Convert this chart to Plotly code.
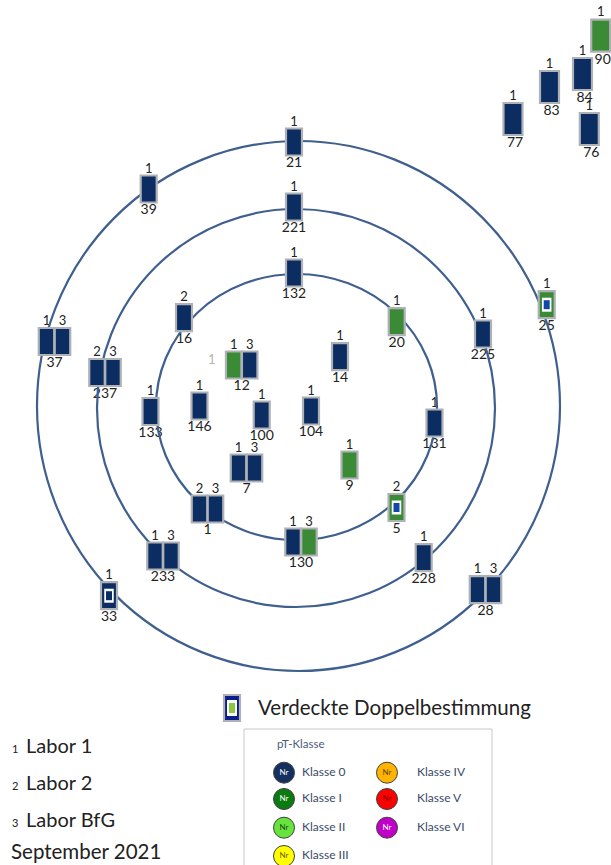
import plotly.graph_objects as go

# Probenahmestellen auf den Kreisen (Pixel-Schema, y nach unten)
sample_ids = ["21", "39", "221", "132", "16", "37", "237", "12", "14", "20", "225",
              "146", "133", "100", "104", "131", "9", "7", "1", "130", "233", "228", "28"]
sample_x = [294, 148.7, 294, 294, 184, 54.5, 105, 241.7, 340, 396.7, 483,
            199.5, 150.5, 261.7, 311, 434.5, 349.5, 246.5, 207.5, 301, 163, 423.7, 485.5]
sample_y = [142, 189, 207, 273, 317.7, 341.5, 372.5, 365, 356.7, 321.7, 334,
            406, 411.5, 415, 411, 423, 465, 468, 509, 542, 556, 557.7, 589.7]
sample_labs = [[1], [1], [1], [1], [2], [1, 3], [2, 3], [1, 3], [1], [1], [1],
               [1], [1], [1], [1], [1], [1], [1, 3], [2, 3], [1, 3], [1, 3], [1], [1, 3]]
sample_classes = [["0"], ["0"], ["0"], ["0"], ["0"], ["0", "0"], ["0", "0"], ["I", "0"],
                  ["0"], ["I"], ["0"], ["0"], ["0"], ["0"], ["0"], ["0"], ["I"],
                  ["0", "0"], ["0", "0"], ["0", "I"], ["0", "0"], ["0"], ["0", "0"]]

# verdeckte Doppelbestimmungen
hidden_ids = ["25", "5", "33"]
hidden_x = [546.7, 396.5, 109]
hidden_y = [304.7, 507.5, 595.7]
hidden_labs = [1, 2, 1]
hidden_outer = ["I", "I", "0"]
hidden_inner = ["B", "B", "0"]

# Stellen ausserhalb (oben rechts)
far_ids = ["77", "83", "84", "90", "76"]
far_x = [513, 549.5, 582.5, 600.7, 589.3]
far_y = [119, 87, 74, 35.7, 129]
far_classes = ["0", "0", "0", "I", "0"]

# Kreise
ring_cx = [298.5, 296, 296.5]
ring_cy = [406, 408, 407]
ring_rx = [261.5, 199, 140.5]
ring_ry = [265, 199, 133]

legend_names = ["Klasse 0", "Klasse I", "Klasse II", "Klasse III", "Klasse IV", "Klasse V", "Klasse VI"]
legend_colors = ["#14305f", "#0b7a10", "#66e33c", "#ffff00", "#ffb400", "#ff0000", "#c000c8"]
legend_textcolors = ["#ffffff", "#ffffff", "#1a4a10", "#6a5a00", "#6a4000", "#8a0000", "#ffffff"]
lab_names = ["Labor 1", "Labor 2", "Labor BfG"]

CLASS_COLORS = {"0": "#0c2d62", "I": "#3b8a36", "B": "#1346a8"}
BORDER = "#aeb2b6"
RING = "#3f5f8f"
FONT = "Lato"
TXT = "#222222"

shapes = []
for cx, cy, rx, ry in zip(ring_cx, ring_cy, ring_rx, ring_ry):
    shapes.append(dict(type="circle", xref="x", yref="y", x0=cx - rx, x1=cx + rx,
                       y0=cy - ry, y1=cy + ry, line=dict(color=RING, width=2.2), layer="above"))


def box(x, y, w, h, fill, line=BORDER, lw=2.2):
    return dict(type="rect", xref="x", yref="y", x0=x - w / 2, x1=x + w / 2,
                y0=y - h / 2, y1=y + h / 2, fillcolor=fill,
                line=dict(color=line, width=lw), layer="above")


lab_tx, lab_ty, lab_t = [], [], []
num_tx, num_ty, num_t = [], [], []

for sid, x, y, labs, cls in zip(sample_ids, sample_x, sample_y, sample_labs, sample_classes):
    n = len(labs)
    offs = [0] if n == 1 else [-8, 8]
    for off, lab, c in zip(offs, labs, cls):
        shapes.append(box(x + off, y, 15.5 if n > 1 else 16, 27, CLASS_COLORS[c]))
        lab_tx.append(x + off)
        lab_ty.append(y - 19.5)
        lab_t.append(str(lab))
    num_tx.append(x)
    num_ty.append(y + 21.5)
    num_t.append(sid)

for sid, x, y, lab, outer, inner in zip(hidden_ids, hidden_x, hidden_y, hidden_labs,
                                        hidden_outer, hidden_inner):
    shapes.append(box(x, y, 16, 27, CLASS_COLORS[outer]))
    shapes.append(box(x, y, 9.5, 14, "#ffffff", line="#ffffff", lw=0))
    shapes.append(box(x, y, 6, 9, CLASS_COLORS[inner], line=CLASS_COLORS[inner], lw=0))
    lab_tx.append(x)
    lab_ty.append(y - 19.5)
    lab_t.append(str(lab))
    num_tx.append(x)
    num_ty.append(y + 21.5)
    num_t.append(sid)

for sid, x, y, c in zip(far_ids, far_x, far_y, far_classes):
    shapes.append(box(x, y, 19, 32, CLASS_COLORS[c]))
    lab_tx.append(x)
    lab_ty.append(y - 22.5)
    lab_t.append("1")
    num_tx.append(x + 2)
    num_ty.append(y + 24.5)
    num_t.append(sid)

# Legendensymbol verdeckte Doppelbestimmung
shapes.append(box(232, 708, 16, 26, "#0a1f8a"))
shapes.append(box(232, 708, 10, 16, "#ffffff", line="#ffffff", lw=0))
shapes.append(box(232, 708, 6, 10, "#8dc63f", line="#8dc63f", lw=0))

# Legendenrahmen pT-Klasse
shapes.append(dict(type="rect", xref="x", yref="y", x0=244, x1=492, y0=729, y1=880,
                   line=dict(color="#c8c8c8", width=1), fillcolor="rgba(0,0,0,0)", layer="below"))

fig = go.Figure()
fig.add_trace(go.Scatter(x=lab_tx, y=lab_ty, text=lab_t, mode="text", cliponaxis=False,
                         textfont=dict(family=FONT, size=13, color=TXT), hoverinfo="skip"))
fig.add_trace(go.Scatter(x=num_tx, y=num_ty, text=num_t, mode="text", cliponaxis=False,
                         textfont=dict(family=FONT, size=14, color=TXT), hoverinfo="skip"))
# grau eingetragene "1" neben Stelle 12
fig.add_trace(go.Scatter(x=[211.7], y=[361], text=["1"], mode="text",
                         textfont=dict(family=FONT, size=13, color="#b5b5b5"), hoverinfo="skip"))

leg_x = [284] * 4 + [387] * 3
leg_y = [772.7, 799, 827.7, 856, 772.7, 799, 827.7]
fig.add_trace(go.Scatter(
    x=leg_x, y=leg_y, mode="markers+text", text=["Nr"] * 7, cliponaxis=False,
    marker=dict(size=21, color=legend_colors, line=dict(color="#404040", width=1)),
    textfont=dict(family=FONT, size=8, color=legend_textcolors), hoverinfo="skip"))
fig.add_trace(go.Scatter(
    x=[x + (18 if x < 300 else 30) for x in leg_x], y=leg_y, mode="text",
    text=legend_names, textposition="middle right", cliponaxis=False,
    textfont=dict(family=FONT, size=12, color="#3a4a6a"), hoverinfo="skip"))

annotations = [
    dict(x=275, y=743, text="pT-Klasse", font=dict(family=FONT, size=11.5, color="#4a5a7a")),
    dict(x=256, y=707, text="Verdeckte Doppelbestimmung", font=dict(family=FONT, size=20.5, color=TXT)),
    dict(x=9, y=851, text="September 2021", font=dict(family=FONT, size=20.5, color=TXT)),
]
for i, name in enumerate(lab_names):
    y = 745 + i * 37
    annotations.append(dict(x=9.5, y=y + 3, text=str(i + 1), font=dict(family=FONT, size=11, color=TXT)))
    annotations.append(dict(x=24, y=y, text=name, font=dict(family=FONT, size=20, color=TXT)))
for a in annotations:
    a.update(xref="x", yref="y", xanchor="left", yanchor="middle", showarrow=False)

fig.update_layout(
    width=611, height=865, margin=dict(l=0, r=0, t=0, b=0),
    paper_bgcolor="white", plot_bgcolor="white", showlegend=False,
    shapes=shapes, annotations=annotations,
    xaxis=dict(range=[0, 611], visible=False, fixedrange=True),
    yaxis=dict(range=[865, 0], visible=False, fixedrange=True),
)

# drop the default 8 px body margin so the figure fills the window exactly
fig.write_html("out.html", config={"displayModeBar": False},
               post_script="document.body.style.margin='0';document.body.style.overflow='hidden';")
